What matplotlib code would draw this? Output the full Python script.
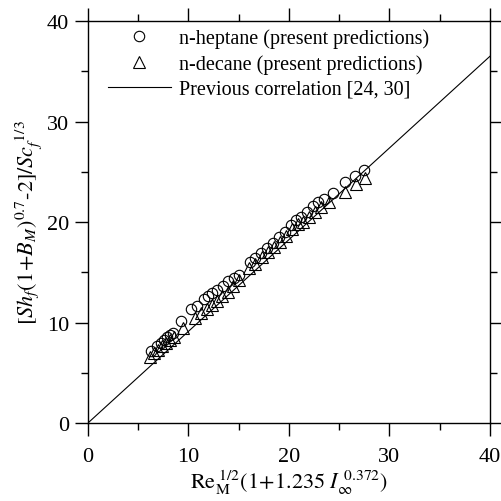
import matplotlib.pyplot as plt
from matplotlib.ticker import MultipleLocator

plt.rcParams['font.family'] = 'Liberation Serif'
plt.rcParams['mathtext.fontset'] = 'stix'

# n-heptane predictions
hep_x = [6.3, 6.9, 7.3, 7.6, 7.9, 8.2, 8.5, 9.3, 10.3, 10.8, 11.5, 11.9, 12.3, 12.8,
         13.4, 13.9, 14.5, 15.0, 16.1, 16.6, 17.2, 17.8, 18.4, 19.0, 19.6, 20.2,
         20.7, 21.2, 21.8, 22.4, 22.9, 23.5, 24.4, 25.6, 26.6, 27.5]
hep_y = [7.2, 7.7, 8.0, 8.3, 8.6, 8.8, 9.0, 10.2, 11.3, 11.6, 12.3, 12.6, 12.9, 13.2,
         13.6, 14.1, 14.4, 14.7, 16.0, 16.4, 16.9, 17.4, 17.9, 18.5, 19.0, 19.7,
         20.2, 20.5, 21.0, 21.6, 22.0, 22.3, 22.9, 24.0, 24.6, 25.2]

# n-decane predictions
dec_x = [6.2, 6.6, 7.0, 7.4, 7.8, 8.2, 8.6, 9.5, 10.6, 11.2, 11.8, 12.3, 12.8, 13.3,
         13.9, 14.4, 15.0, 16.0, 16.6, 17.3, 17.9, 18.5, 19.1, 19.7, 20.3, 20.9,
         21.4, 22.0, 22.6, 23.2, 24.0, 25.6, 26.7, 27.6]
dec_y = [6.6, 7.0, 7.3, 7.7, 8.0, 8.3, 8.6, 9.5, 10.4, 10.9, 11.3, 11.7, 12.1, 12.6,
         13.0, 13.6, 14.2, 15.4, 15.8, 16.5, 17.0, 17.5, 18.0, 18.6, 19.3, 19.8,
         20.0, 20.5, 21.0, 21.5, 22.0, 23.0, 23.8, 24.4]

# previous correlation line
corr_x = [0, 40]
corr_y = [0, 36.5]

fig = plt.figure(figsize=(5.01, 5.02), dpi=100)
ax = fig.add_axes([0.1756, 0.1554, 0.8024, 0.8006])

ax.plot(hep_x, hep_y, 'o', ms=7.5, mfc='none', mec='black', mew=0.8,
        label='n-heptane (present predictions)')
ax.plot(dec_x, dec_y, '^', ms=8, mfc='none', mec='black', mew=0.8,
        label='n-decane (present predictions)')
ax.plot(corr_x, corr_y, '-', color='black', lw=0.8,
        label='Previous correlation [24, 30]')

ax.set_xlim(0, 40)
ax.set_ylim(0, 40)
ax.xaxis.set_major_locator(MultipleLocator(10))
ax.xaxis.set_minor_locator(MultipleLocator(5))
ax.yaxis.set_major_locator(MultipleLocator(10))
ax.yaxis.set_minor_locator(MultipleLocator(5))
ax.tick_params(which='both', direction='out', top=True, right=True,
               width=1.0, labelsize=16)
ax.tick_params(axis='x', pad=8)
ax.tick_params(axis='y', pad=4)
ax.tick_params(which='major', length=9.5)
ax.tick_params(which='minor', length=5)
for s in ax.spines.values():
    s.set_linewidth(1.0)

ax.set_xlabel(r'$\mathrm{Re}_\mathrm{M}^{\ 1/2}(1\!+\!1.235\ I_{\infty}^{\ 0.372})$',
              fontsize=16, labelpad=1)
ax.set_ylabel(r'$[Sh_f(1\!+\!B_M)^{0.7}\text{-}2]/Sc_f^{\ 1/3}$',
              fontsize=16, labelpad=2)

ax.legend(loc='upper left', bbox_to_anchor=(0.02, 1.012), frameon=False,
          fontsize=14.5, handlelength=3.1, handletextpad=0.42,
          labelspacing=0.3, borderaxespad=0.2)

fig.savefig('out.png', dpi=100)
